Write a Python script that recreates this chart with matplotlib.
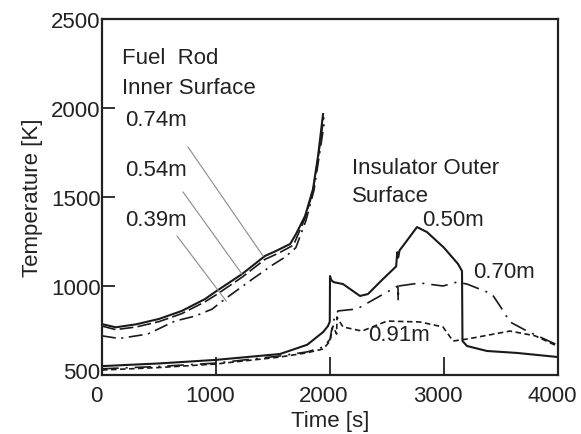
import matplotlib
matplotlib.use("Agg")
import matplotlib.pyplot as plt
import matplotlib.transforms as mtransforms

plt.rcParams['font.family'] = ['Liberation Sans', 'DejaVu Sans']
plt.rcParams['lines.scale_dashes'] = False

# ---- data ----
x_ticks = [0, 1000, 2000, 3000, 4000]
y_ticks = [500, 1000, 1500, 2000, 2500]

# Fuel rod inner surface
fuel074_t = [0, 120, 300, 500, 700, 904, 991, 1228, 1430, 1520, 1650, 1700, 1781, 1851, 1895, 1939]
fuel074_T = [786, 768, 785, 815, 860, 927, 966, 1067, 1169, 1195, 1236, 1290, 1393, 1545, 1730, 1966]

fuel054_t = [0, 120, 300, 500, 700, 900, 1000, 1230, 1430, 1550, 1680, 1780, 1850, 1900, 1945]
fuel054_T = [775, 755, 770, 800, 845, 910, 950, 1050, 1150, 1185, 1230, 1380, 1530, 1740, 1950]

fuel039_t = [0, 150, 400, 640, 816, 965, 1079, 1300, 1500, 1600, 1700, 1790, 1860, 1910, 1955]
fuel039_T = [720, 705, 730, 803, 831, 870, 927, 1030, 1120, 1160, 1215, 1370, 1540, 1750, 1940]

# Insulator outer surface
ins050_t = [0, 500, 1000, 1561, 1800, 1939, 1982, 1998, 2000, 2010, 2030, 2114, 2263, 2333, 2450,
            2580, 2590, 2598, 2610, 2640, 2763, 2851, 3000, 3123, 3158, 3162, 3202, 3377, 3640, 4000]
ins050_T = [550, 565, 585, 618, 670, 741, 775, 800, 1056, 1035, 1022, 1011, 944, 955, 1030,
            1110, 1190, 1160, 1200, 1225, 1331, 1303, 1215, 1124, 1084, 691, 663, 635, 624, 601]

ins070_t = [0, 500, 1000, 1561, 1800, 1939, 2000, 2026, 2070, 2237, 2439, 2596, 2598, 2602,
            2790, 2991, 3114, 3202, 3421, 3491, 3579, 3728, 3991]
ins070_T = [535, 548, 567, 607, 630, 657, 700, 798, 860, 871, 944, 1000, 916, 1000,
            1017, 1000, 1022, 1011, 955, 888, 798, 747, 670]

ins091_t = [0, 500, 1000, 1561, 1800, 1939, 2000, 2026, 2058, 2061, 2070, 2114, 2281, 2500,
            2790, 2991, 3079, 3202, 3579, 3800, 3991]
ins091_T = [528, 542, 562, 601, 625, 646, 690, 775, 730, 826, 815, 770, 747, 803,
            798, 770, 691, 702, 747, 720, 663]

# leader lines (label anchor -> curve)
lead074 = ([754, 1412], [1781, 1169])
lead054 = ([711, 1228], [1528, 1067])
lead039 = ([658, 1090], [1281, 915])

fig = plt.figure(figsize=(5.81, 4.35), dpi=100)
ax = fig.add_axes([0.1756, 0.1356, 0.9604 - 0.1756, 0.954 - 0.1356])

k = '#1a1a1a'
ax.plot(fuel074_t, fuel074_T, color=k, lw=1.5, ls='-')
ax.plot(fuel054_t, fuel054_T, color=k, lw=1.2, ls=(0, (10, 3)))
ax.plot(fuel039_t, fuel039_T, color=k, lw=1.2, ls=(0, (10, 4, 1.5, 4)))

ax.plot(ins050_t, ins050_T, color=k, lw=1.5, ls='-')
ax.plot(ins070_t, ins070_T, color=k, lw=1.2, ls=(0, (12, 5, 1.5, 5)))
ax.plot(ins091_t, ins091_T, color=k, lw=1.2, ls=(0, (4, 2.5)))

for lx, ly in (lead074, lead054, lead039):
    ax.plot(lx, ly, color='#8a8a8a', lw=0.8)

fs = 16
tc = '#222'
ax.text(175, 2286, 'Fuel  Rod', fontsize=fs, va='center', ha='left', color=tc)
ax.text(175, 2118, 'Inner Surface', fontsize=fs, va='center', ha='left', color=tc)
ax.text(202, 1933, '0.74m', fontsize=fs, va='center', ha='left', color=tc)
ax.text(202, 1657, '0.54m', fontsize=fs, va='center', ha='left', color=tc)
ax.text(202, 1371, '0.39m', fontsize=fs, va='center', ha='left', color=tc)
ax.text(2193, 1663, 'Insulator Outer', fontsize=fs, va='center', ha='left', color=tc)
ax.text(2193, 1506, 'Surface', fontsize=fs, va='center', ha='left', color=tc)
ax.text(2807, 1376, '0.50m', fontsize=fs, va='center', ha='left', color=tc)
ax.text(3254, 1079, '0.70m', fontsize=fs, va='center', ha='left', color=tc)
ax.text(2333, 725, '0.91m', fontsize=fs, va='center', ha='left', color=tc)

ax.set_xlim(0, 4000)
ax.set_ylim(500, 2500)
ax.set_xticks(x_ticks)
ax.set_yticks(y_ticks)
ax.tick_params(axis='x', direction='in', length=13, width=1.3, pad=7, labelsize=fs, colors=tc)
ax.tick_params(axis='y', direction='in', length=9.5, width=1.3, pad=1, labelsize=fs, colors=tc)
shift = mtransforms.ScaledTranslation(-6 / 100, 0, fig.dpi_scale_trans)
for lab in ax.get_xticklabels():
    lab.set_transform(lab.get_transform() + shift)
ylabs = ax.get_yticklabels()
ylabs[0].set_transform(ylabs[0].get_transform()
                       + mtransforms.ScaledTranslation(0, 5 / 100, fig.dpi_scale_trans))
for s in ax.spines.values():
    s.set_linewidth(1.6)
    s.set_color(tc)
ax.set_xlabel('Time [s]', fontsize=fs, color=tc, labelpad=3)
ax.set_ylabel('Temperature [K]', fontsize=fs, color=tc, labelpad=6)

fig.savefig('out.png', dpi=100)
